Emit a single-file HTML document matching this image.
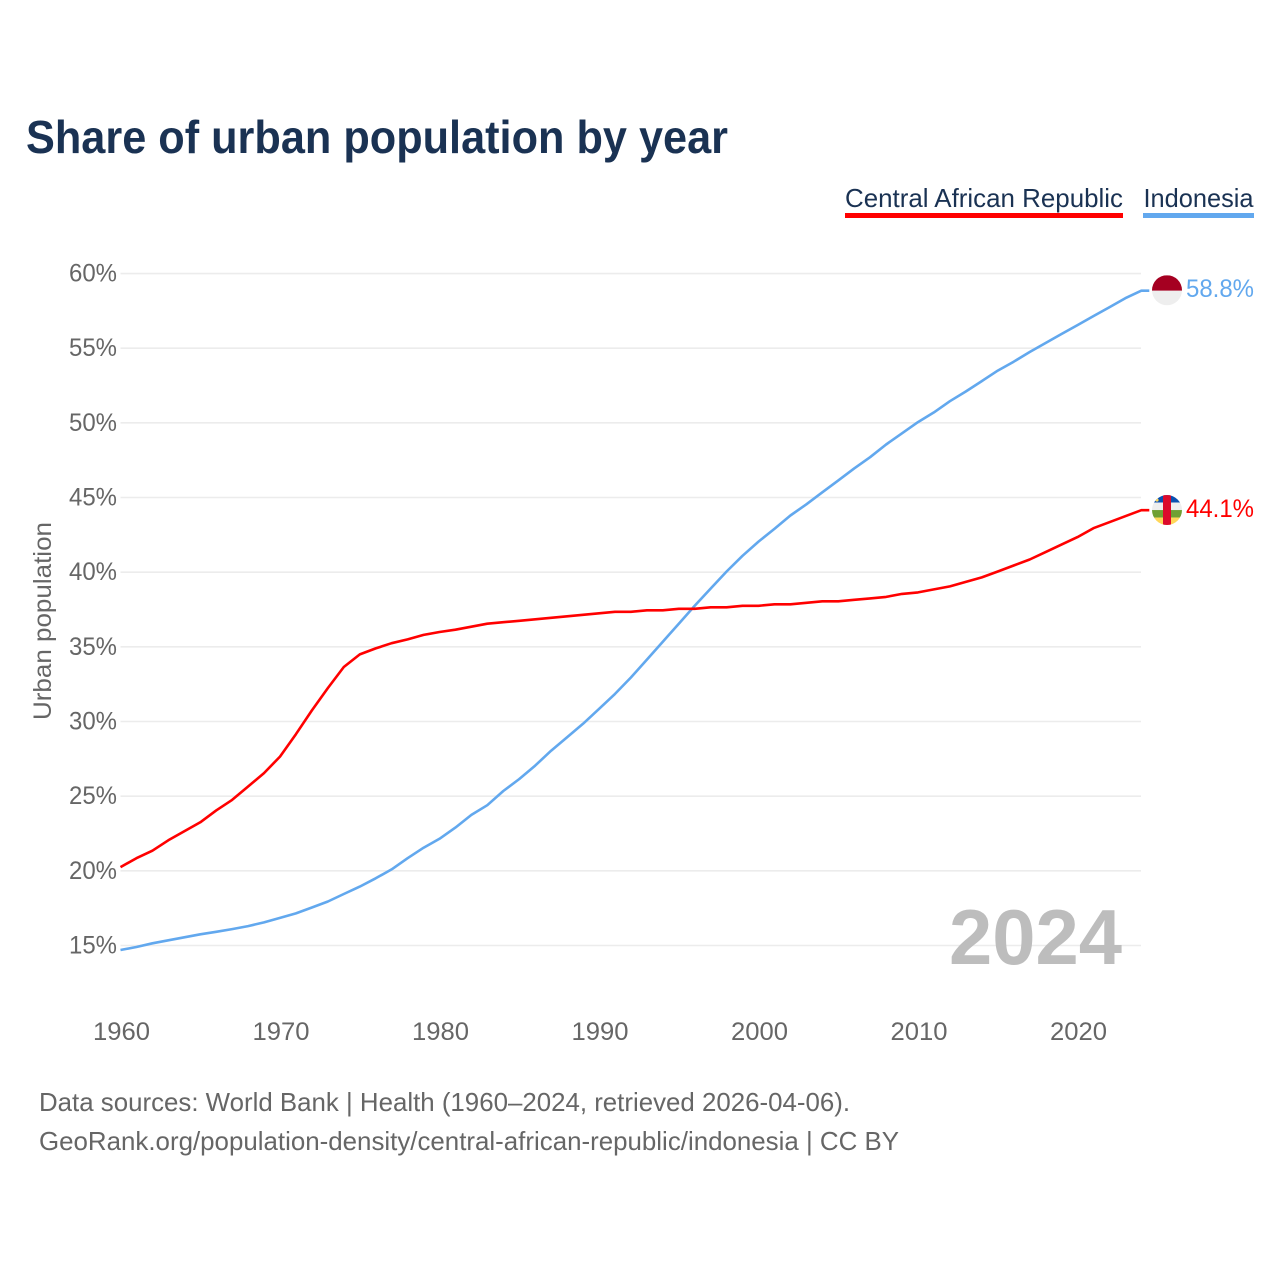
<!DOCTYPE html>
<html lang="en">
<head>
<meta charset="utf-8">
<title>Share of urban population by year</title>
<style>
html,body{margin:0;padding:0;background:#fff;width:1280px;height:1280px;overflow:hidden}
svg{display:block}
text{font-family:"Liberation Sans",sans-serif}
</style>
</head>
<body>
<svg id="chart" width="1280" height="1280" viewBox="0 0 1280 1280" xmlns="http://www.w3.org/2000/svg">
  <rect width="1280" height="1280" fill="#fff"/>
  <text x="26" y="153" font-size="46" font-weight="700" fill="#1a3253" textLength="702" lengthAdjust="spacingAndGlyphs">Share of urban population by year</text>

  <g>
    <g>
      <text x="845" y="207" font-size="26" fill="#1a3253" textLength="278" lengthAdjust="spacingAndGlyphs">Central African Republic</text>
      <rect x="845" y="213" width="278" height="5" fill="#ff0000"/>
    </g>
    <g>
      <text x="1143.5" y="207" font-size="26" fill="#1a3253" textLength="110" lengthAdjust="spacingAndGlyphs">Indonesia</text>
      <rect x="1143" y="213" width="111" height="5" fill="#62a8ee"/>
    </g>
  </g>

  <g id="grid"></g>
  <g id="yticks"></g>
  <g id="xticks"></g>

  <text transform="translate(51,621) rotate(-90)" text-anchor="middle" font-size="25" fill="#666" textLength="198" lengthAdjust="spacingAndGlyphs">Urban population</text>

  <text x="1122" y="964" text-anchor="end" font-size="78" font-weight="700" fill="#bdbdbd" textLength="173" lengthAdjust="spacingAndGlyphs">2024</text>

  <g id="series"></g>

  <defs>
    <clipPath id="clip-id"><circle id="clip-id-c" r="15"/></clipPath>
    <clipPath id="clip-car"><circle id="clip-car-c" r="15"/></clipPath>
  </defs>
  <g id="flag-id" clip-path="url(#clip-id)"></g>
  <g id="flag-car" clip-path="url(#clip-car)"></g>
  <g id="endlabels"></g>

  <g>
    <text x="39" y="1111" font-size="26" fill="#666" textLength="811" lengthAdjust="spacingAndGlyphs">Data sources: World Bank | Health (1960–2024, retrieved 2026-04-06).</text>
    <text x="39" y="1150" font-size="26" fill="#666" textLength="860" lengthAdjust="spacingAndGlyphs">GeoRank.org/population-density/central-african-republic/indonesia | CC BY</text>
  </g>
</svg>

<script>
const years = [1960,1961,1962,1963,1964,1965,1966,1967,1968,1969,1970,1971,1972,1973,1974,1975,1976,1977,1978,1979,1980,1981,1982,1983,1984,1985,1986,1987,1988,1989,1990,1991,1992,1993,1994,1995,1996,1997,1998,1999,2000,2001,2002,2003,2004,2005,2006,2007,2008,2009,2010,2011,2012,2013,2014,2015,2016,2017,2018,2019,2020,2021,2022,2023,2024];
const centralAfricanRepublic = [20.2,20.8,21.3,22.0,22.6,23.2,24.0,24.7,25.6,26.5,27.6,29.1,30.7,32.2,33.6,34.45,34.85,35.2,35.45,35.75,35.95,36.1,36.3,36.5,36.6,36.7,36.8,36.9,37.0,37.1,37.2,37.3,37.3,37.4,37.4,37.5,37.5,37.6,37.6,37.7,37.7,37.8,37.8,37.9,38.0,38.0,38.1,38.2,38.3,38.5,38.6,38.8,39.0,39.3,39.6,40.0,40.4,40.8,41.3,41.8,42.3,42.9,43.3,43.7,44.1];
const indonesia = [14.65,14.85,15.1,15.3,15.5,15.7,15.87,16.05,16.25,16.5,16.8,17.1,17.5,17.9,18.4,18.9,19.45,20.05,20.8,21.5,22.1,22.85,23.7,24.35,25.3,26.1,27.0,28.0,28.9,29.8,30.8,31.8,32.9,34.1,35.3,36.5,37.7,38.85,40.0,41.05,42.0,42.85,43.75,44.5,45.3,46.1,46.9,47.65,48.5,49.25,50.0,50.65,51.4,52.05,52.75,53.45,54.05,54.7,55.3,55.9,56.5,57.1,57.7,58.3,58.8];
const yTickValues = [15,20,25,30,35,40,45,50,55,60];
const xTickValues = [1960,1970,1980,1990,2000,2010,2020];

const NS = 'http://www.w3.org/2000/svg';
const X0 = 120.5, XPERYEAR = 15.95, Y15 = 945.5, YPERPCT = 14.933;
const LINE_DY = -0.7;
function xScale(year){ return X0 + (year - 1960) * XPERYEAR; }
function yScale(pct){ return Y15 - (pct - 15) * YPERPCT; }
function make(tag, parent, props, text){
  const el = document.createElementNS(NS, tag);
  for (const k in props) el.setAttribute(k, props[k]);
  if (text !== undefined) el.textContent = text;
  parent.appendChild(el);
  return el;
}

const gridG = document.getElementById('grid');
const yG = document.getElementById('yticks');
const xG = document.getElementById('xticks');
const seriesG = document.getElementById('series');
const endG = document.getElementById('endlabels');

yTickValues.forEach(function(v){
  const line = make('line', gridG, {x1:120.5, x2:1141, y1:yScale(v), y2:yScale(v), stroke:'#ececec', 'stroke-width':1.6});
  
  
  const label = make('text', yG, {x:117, y:yScale(v)+8, 'text-anchor':'end', 'font-size':25, fill:'#666', textLength:48, lengthAdjust:'spacingAndGlyphs'}, v + '%');
  
  
});

xTickValues.forEach(function(v){
  const label = make('text', xG, {x:xScale(v)+1, y:1040, 'text-anchor':'middle', 'font-size':25, fill:'#666', textLength:57, lengthAdjust:'spacingAndGlyphs'}, String(v));
  
  
});

function linePath(values){
  const pts = values.map(function(v, i){ return xScale(years[i]).toFixed(1) + ',' + (yScale(v) + LINE_DY).toFixed(1); });
  const last = values[values.length - 1];
  pts.push((xScale(years[years.length - 1]) + 8).toFixed(1) + ',' + (yScale(last) + LINE_DY).toFixed(1));
  return 'M' + pts.join('L');
}

const indonesiaLine = make('path', seriesG, {d:linePath(indonesia), fill:'none', stroke:'#62a8ee', 'stroke-width':2.6, 'stroke-linejoin':'round'});



const carLine = make('path', seriesG, {d:linePath(centralAfricanRepublic), fill:'none', stroke:'#ff0000', 'stroke-width':2.6, 'stroke-linejoin':'round'});



const idLast = indonesia[indonesia.length - 1];
const carLast = centralAfricanRepublic[centralAfricanRepublic.length - 1];
const FLAG_X = 1167;
const idY = yScale(idLast) - 1.2;
const carY = yScale(carLast) - 0.9;

document.getElementById('clip-id-c').setAttribute('cx', FLAG_X);
document.getElementById('clip-id-c').setAttribute('cy', idY);
document.getElementById('clip-car-c').setAttribute('cx', FLAG_X);
document.getElementById('clip-car-c').setAttribute('cy', carY);

const flagId = document.getElementById('flag-id');
make('rect', flagId, {x:FLAG_X-15, y:idY-15, width:30, height:15.5, fill:'#a50021'});
make('rect', flagId, {x:FLAG_X-15, y:idY+0.5, width:30, height:15, fill:'#eeeeee'});

const flagCar = document.getElementById('flag-car');
make('rect', flagCar, {x:FLAG_X-15, y:carY-15, width:30, height:7.5, fill:'#0a50b0'});
make('rect', flagCar, {x:FLAG_X-15, y:carY-7.5, width:30, height:7.5, fill:'#eeeeee'});
make('rect', flagCar, {x:FLAG_X-15, y:carY, width:30, height:7.5, fill:'#6fa034'});
make('rect', flagCar, {x:FLAG_X-15, y:carY+7.5, width:30, height:7.5, fill:'#ffd75a'});
make('rect', flagCar, {x:FLAG_X-4, y:carY-15, width:8, height:30, fill:'#dc0a2c'});
make('circle', flagCar, {cx:FLAG_X-10, cy:carY-10, r:1.6, fill:'#ffd75a'});

const idLabel = make('text', endG, {x:1186, y:idY+7, 'font-size':25, fill:'#62a8ee', textLength:68, lengthAdjust:'spacingAndGlyphs'}, idLast.toFixed(1) + '%');


const carLabel = make('text', endG, {x:1186, y:carY+7, 'font-size':25, fill:'#ff0000', textLength:68, lengthAdjust:'spacingAndGlyphs'}, carLast.toFixed(1) + '%');


</script>
</body>
</html>
